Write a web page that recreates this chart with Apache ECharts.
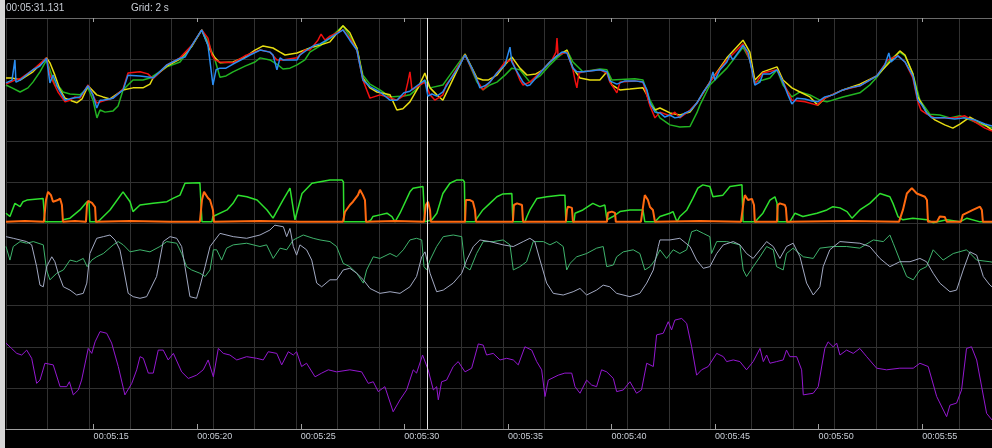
<!DOCTYPE html>
<html>
<head>
<meta charset="utf-8">
<script src="https://cdn.jsdelivr.net/npm/echarts@6/dist/echarts.min.js"></script>
<style>
html,body{margin:0;padding:0;background:#000;overflow:hidden;}
#chart{width:992px;height:448px;}
</style>
</head>
<body>
<div id="chart"></div>
<script>
// Time axis: seconds after 00:05:00. Value axis: screen divisions (0 = bottom, 10 = top).
const tickSeconds = [15, 20, 25, 30, 35, 40, 45, 50, 55];
const cursorTime = 31.131;
const gridStep = 2;
const viewStart = 10.77;
const viewEnd = 58.37;

// Upper group: four closely tracking channels
const topGreen = [[10.77,8.37],[11.06,8.30],[11.45,8.20],[11.83,8.30],[12.07,8.44],[12.41,8.69],[12.73,8.98],[12.89,8.74],[13.13,8.37],[13.38,8.30],[13.52,8.20],[13.86,8.15],[14.34,8.13],[14.73,8.30],[14.97,8.00],[15.16,7.57],[15.31,7.76],[15.55,7.71],[15.94,7.74],[16.18,7.86],[16.42,8.25],[16.90,8.49],[17.38,8.49],[17.72,8.54],[18.54,8.81],[19.17,8.93],[19.75,9.32],[20.22,9.71],[20.52,9.42],[20.86,8.98],[21.10,8.56],[21.39,8.59],[21.73,8.69],[22.31,8.83],[22.79,8.93],[23.04,9.03],[23.51,8.98],[23.90,8.86],[24.14,8.76],[24.48,8.78],[24.82,8.86],[25.20,8.98],[25.44,9.17],[25.93,9.32],[26.41,9.51],[27.04,9.81],[27.37,9.56],[27.71,9.27],[28.00,8.61],[28.34,8.39],[28.82,8.25],[29.31,8.08],[29.98,8.10],[30.27,8.13],[30.66,8.30],[30.99,8.49],[31.24,8.30],[31.86,8.37],[32.20,8.61],[32.93,9.12],[33.51,8.44],[33.79,8.25],[34.13,8.37],[34.47,8.44],[34.86,8.61],[35.19,8.78],[35.58,8.74],[36.06,8.44],[36.55,8.59],[37.03,8.86],[37.37,9.03],[37.85,9.22],[38.14,8.93],[38.62,8.69],[39.44,8.76],[39.78,8.74],[40.02,8.49],[41.13,8.52],[41.52,8.49],[41.86,8.00],[42.34,7.57],[42.82,7.40],[43.30,7.35],[43.79,7.36],[44.12,7.69],[44.27,7.88],[44.75,8.37],[45.57,8.78],[46.35,9.29],[46.68,8.98],[46.92,8.44],[47.31,8.49],[47.65,8.54],[47.99,8.74],[48.28,8.37],[48.71,8.08],[49.10,8.20],[49.58,8.13],[50.06,8.00],[50.40,7.96],[51.17,8.08],[51.99,8.18],[52.47,8.37],[52.81,8.56],[53.44,8.98],[53.92,9.17],[54.17,9.08],[54.55,8.64],[54.89,8.00],[55.37,7.66],[55.85,7.64],[56.34,7.57],[56.82,7.62],[57.30,7.52],[57.79,7.42],[58.37,7.32]];
const topYellow = [[10.77,8.54],[11.06,8.54],[11.45,8.49],[12.07,8.69],[12.73,9.03],[12.89,8.91],[13.13,8.61],[13.38,8.25],[13.62,8.05],[13.96,7.98],[14.20,7.94],[14.44,8.03],[14.73,8.35],[15.15,8.13],[15.45,8.08],[15.79,8.03],[16.42,8.25],[16.90,8.30],[17.38,8.30],[17.72,8.39],[17.87,8.54],[18.54,8.83],[19.17,9.00],[19.75,9.32],[20.22,9.71],[20.62,9.22],[20.86,9.03],[21.10,8.91],[21.73,8.93],[22.31,9.05],[22.79,9.22],[23.18,9.32],[23.66,9.27],[24.00,9.17],[24.24,9.10],[24.82,9.15],[25.44,9.27],[25.93,9.34],[26.41,9.42],[27.04,9.81],[27.37,9.64],[27.71,9.27],[28.00,8.54],[28.34,8.30],[28.68,8.20],[29.31,8.13],[29.64,7.76],[29.93,7.79],[30.27,7.96],[30.66,8.30],[30.99,8.66],[31.24,8.30],[31.57,8.13],[31.86,8.00],[32.10,8.25],[32.44,8.61],[32.93,9.12],[33.51,8.54],[33.79,8.49],[34.04,8.49],[34.47,8.61],[34.86,8.86],[35.19,9.05],[35.58,8.78],[35.92,8.61],[36.35,8.64],[36.69,8.74],[37.03,8.93],[37.37,9.08],[37.85,9.22],[38.14,8.78],[38.48,8.54],[38.96,8.49],[39.44,8.49],[39.78,8.69],[40.02,8.37],[40.41,8.25],[40.89,8.27],[41.52,8.30],[41.71,8.13],[41.86,7.91],[42.10,7.76],[42.34,7.81],[42.82,7.69],[43.30,7.64],[43.79,7.71],[44.12,7.93],[44.75,8.44],[45.57,9.03],[46.35,9.46],[46.68,9.17],[46.92,8.49],[47.31,8.69],[47.99,8.81],[48.28,8.49],[48.71,8.30],[49.10,8.20],[49.58,8.08],[49.96,7.88],[50.30,8.05],[51.17,8.25],[51.99,8.39],[52.81,8.59],[53.44,8.93],[53.92,9.20],[54.17,9.10],[54.55,8.64],[54.79,8.08],[55.22,7.69],[55.61,7.52],[56.09,7.40],[56.48,7.32],[56.82,7.42],[57.30,7.59],[57.54,7.52],[58.03,7.40],[58.37,7.27]];
const topRed = [[10.77,8.39],[11.20,8.49],[11.45,8.52],[12.07,8.74],[12.73,9.03],[12.89,8.61],[13.28,8.20],[13.62,7.96],[13.86,8.00],[14.10,8.08],[14.34,8.05],[14.73,8.37],[15.15,7.93],[15.45,7.98],[15.94,8.05],[16.42,8.27],[16.66,8.66],[17.24,8.69],[17.62,8.64],[17.87,8.52],[18.54,8.86],[19.17,9.03],[19.75,9.34],[20.22,9.71],[20.52,9.51],[20.71,9.10],[20.86,8.98],[21.10,8.93],[21.73,8.91],[22.31,9.08],[23.04,9.22],[23.51,9.17],[23.85,8.98],[24.14,8.98],[24.82,9.03],[25.20,9.22],[25.44,9.22],[25.83,9.46],[25.98,9.61],[26.17,9.46],[26.41,9.56],[27.04,9.71],[27.37,9.51],[27.71,9.22],[28.00,8.49],[28.34,8.05],[28.82,8.13],[29.21,8.08],[29.64,8.00],[30.03,8.13],[30.17,8.44],[30.27,8.69],[30.37,8.25],[30.75,8.37],[30.99,8.44],[31.24,8.13],[31.48,8.00],[31.72,8.08],[31.86,8.13],[32.01,8.37],[32.20,8.49],[32.93,9.10],[33.51,8.49],[33.79,8.25],[34.13,8.44],[34.47,8.66],[34.86,8.93],[35.19,8.98],[35.58,8.49],[35.73,8.37],[36.06,8.44],[36.69,8.74],[37.13,8.98],[37.32,9.17],[37.37,9.51],[37.42,9.10],[37.85,9.17],[38.14,8.74],[38.24,8.49],[38.33,8.30],[38.43,8.66],[38.62,8.69],[39.44,8.74],[39.78,8.66],[39.92,8.44],[40.17,8.25],[40.26,8.18],[40.41,8.44],[41.13,8.47],[41.52,8.44],[41.86,7.86],[42.10,7.57],[42.34,7.71],[42.82,7.62],[43.06,7.71],[43.30,7.57],[43.79,7.76],[44.12,7.93],[44.75,8.44],[45.57,8.98],[46.35,9.37],[46.68,8.98],[46.92,8.39],[47.31,8.66],[47.99,8.74],[48.28,8.44],[48.71,8.00],[49.34,7.96],[49.92,7.88],[50.30,8.05],[51.17,8.25],[51.99,8.35],[52.81,8.59],[53.34,8.98],[53.83,9.08],[54.17,8.93],[54.55,8.54],[54.79,7.96],[54.94,7.76],[55.22,7.66],[55.61,7.57],[56.57,7.57],[57.06,7.62],[57.54,7.47],[58.03,7.32],[58.37,7.25]];
const topBlue = [[10.77,8.42],[11.06,8.49],[11.20,8.98],[11.25,8.44],[11.45,8.49],[12.07,8.74],[12.41,8.83],[12.73,9.02],[12.89,8.42],[13.04,8.61],[13.28,8.30],[13.62,8.00],[13.96,8.05],[14.34,8.08],[14.73,8.35],[14.97,8.13],[15.15,7.81],[15.31,8.00],[15.45,8.00],[15.94,8.05],[16.42,8.25],[16.66,8.61],[17.24,8.59],[17.72,8.56],[17.87,8.54],[18.54,8.86],[19.17,9.02],[19.41,9.05],[19.75,9.34],[20.22,9.71],[20.52,9.34],[20.76,8.37],[20.91,8.74],[21.10,8.78],[21.39,8.78],[21.73,8.88],[22.31,9.03],[22.55,9.10],[23.04,9.22],[23.51,9.17],[23.66,9.10],[23.85,8.74],[24.00,9.03],[24.14,8.98],[24.82,8.98],[24.96,9.10],[25.44,9.27],[25.69,9.34],[25.93,9.37],[26.41,9.51],[26.65,9.59],[27.04,9.71],[27.37,9.46],[27.71,9.22],[28.00,8.49],[28.34,8.33],[28.82,8.20],[29.31,8.00],[29.64,8.00],[29.98,8.18],[30.27,8.22],[30.66,8.37],[30.99,8.49],[31.14,8.10],[31.33,8.15],[31.57,8.10],[31.86,8.20],[32.20,8.49],[32.59,8.78],[32.93,9.10],[33.26,8.78],[33.51,8.49],[33.65,8.30],[33.89,8.35],[34.13,8.44],[34.47,8.66],[34.86,8.86],[35.10,9.29],[35.19,8.93],[35.39,8.74],[35.73,8.44],[35.92,8.35],[36.06,8.37],[36.35,8.54],[36.69,8.74],[37.03,8.93],[37.37,9.08],[37.61,9.17],[37.85,9.15],[38.14,8.78],[38.33,8.69],[38.62,8.69],[38.96,8.71],[39.44,8.74],[39.78,8.69],[39.92,8.47],[40.26,8.39],[40.65,8.47],[41.13,8.47],[41.52,8.44],[41.71,8.25],[41.86,7.93],[42.10,7.71],[42.34,7.69],[42.58,7.59],[42.82,7.64],[43.06,7.57],[43.30,7.59],[43.55,7.69],[43.79,7.74],[44.12,7.93],[44.41,8.18],[44.75,8.42],[44.90,8.69],[44.99,8.49],[45.24,8.74],[45.57,8.93],[45.72,9.10],[45.86,8.98],[46.20,9.22],[46.35,9.34],[46.59,9.17],[46.78,8.74],[46.92,8.37],[47.17,8.44],[47.31,8.64],[47.65,8.64],[47.99,8.74],[48.28,8.44],[48.52,8.13],[48.71,7.91],[48.95,8.05],[49.34,8.03],[49.68,7.98],[49.96,7.96],[50.30,8.08],[50.69,8.13],[51.17,8.25],[51.51,8.30],[51.99,8.35],[52.47,8.49],[52.81,8.59],[53.20,8.86],[53.39,9.15],[53.49,8.93],[53.83,9.08],[54.17,8.93],[54.55,8.59],[54.79,8.00],[54.99,7.88],[55.22,7.69],[55.47,7.57],[56.09,7.57],[56.57,7.54],[57.06,7.57],[57.54,7.52],[58.03,7.42],[58.37,7.37]];

// Middle pair: green level and orange pulses sitting on a common baseline
const midGreen = [[10.77,5.25],[10.96,5.17],[11.20,5.49],[11.45,5.41],[11.59,5.53],[11.78,5.57],[12.56,5.61],[12.63,5.57],[12.65,5.04],[13.47,5.04],[13.52,5.09],[13.86,5.13],[14.34,5.33],[14.68,5.53],[14.78,5.50],[14.82,5.04],[15.16,5.04],[15.31,5.09],[15.79,5.33],[16.42,5.77],[16.76,5.53],[16.90,5.29],[17.24,5.45],[17.87,5.49],[18.54,5.53],[18.83,5.61],[19.17,5.69],[19.41,5.98],[20.13,5.99],[20.21,5.99],[20.23,5.04],[20.71,5.04],[20.76,5.17],[21.44,5.33],[21.73,5.49],[21.97,5.69],[22.40,5.65],[22.89,5.57],[23.37,5.33],[23.66,5.13],[24.14,5.57],[24.48,5.86],[24.72,5.09],[25.06,5.73],[25.54,5.98],[26.41,6.06],[26.99,6.06],[27.06,6.01],[27.08,5.04],[28.24,5.04],[28.39,5.09],[28.48,5.17],[28.82,5.21],[29.16,5.25],[29.40,5.17],[29.55,5.04],[29.79,5.25],[30.27,5.77],[30.42,5.86],[30.90,5.90],[30.97,5.86],[30.99,5.04],[31.33,5.09],[31.57,5.25],[31.86,5.73],[32.20,5.98],[32.54,6.06],[32.83,6.06],[32.90,6.01],[32.93,5.04],[33.41,5.04],[33.51,5.13],[33.79,5.33],[34.13,5.49],[34.47,5.65],[34.76,5.72],[35.19,5.73],[35.24,5.04],[35.82,5.04],[35.92,5.17],[36.06,5.33],[36.40,5.61],[36.88,5.65],[37.51,5.69],[37.75,5.69],[37.80,5.04],[38.19,5.04],[38.24,5.25],[38.62,5.33],[39.10,5.49],[39.44,5.41],[39.68,5.45],[39.78,5.09],[40.07,5.17],[40.41,5.29],[40.89,5.33],[41.52,5.33],[41.61,5.04],[42.10,5.04],[42.34,5.17],[42.82,5.25],[42.97,5.29],[43.16,5.04],[43.30,5.17],[43.64,5.33],[43.93,5.61],[44.17,5.86],[44.41,5.94],[44.75,5.90],[44.90,5.65],[45.38,5.69],[45.72,5.90],[46.30,5.94],[46.35,5.04],[46.97,5.04],[47.02,5.09],[47.31,5.25],[47.65,5.57],[47.89,5.65],[47.99,5.50],[48.03,5.04],[48.61,5.04],[48.86,5.25],[49.24,5.17],[49.92,5.25],[50.40,5.33],[50.69,5.41],[51.03,5.38],[51.37,5.29],[51.61,5.13],[51.99,5.33],[52.47,5.49],[52.96,5.73],[53.44,5.65],[53.59,5.49],[53.83,5.17],[54.07,5.09],[54.55,5.13],[55.23,5.09],[55.52,5.02],[56.19,5.09],[56.82,5.04],[57.16,5.13],[57.79,5.04],[58.37,5.04]];
const midOrange = [[10.77,5.04],[11.69,5.06],[12.60,5.04],[12.70,5.57],[12.80,5.77],[12.94,5.69],[13.04,5.53],[13.28,5.57],[13.38,5.61],[13.47,5.45],[13.52,5.04],[14.10,5.06],[14.63,5.04],[14.68,5.45],[14.73,5.55],[14.92,5.50],[15.07,5.40],[15.11,5.04],[16.76,5.06],[18.69,5.04],[20.13,5.04],[20.23,5.57],[20.33,5.77],[20.52,5.62],[20.62,5.57],[20.76,5.33],[20.81,5.04],[23.03,5.06],[24.96,5.04],[27.04,5.04],[27.13,5.28],[27.37,5.45],[27.52,5.53],[27.76,5.69],[27.86,5.82],[28.00,5.69],[28.10,5.57],[28.15,5.04],[29.55,5.06],[30.95,5.04],[31.04,5.45],[31.14,5.53],[31.24,5.33],[31.28,5.04],[32.93,5.04],[32.97,5.57],[33.02,5.61],[33.17,5.57],[33.31,5.53],[33.41,5.33],[33.46,5.04],[35.24,5.04],[35.29,5.45],[35.44,5.49],[35.68,5.45],[35.73,5.04],[37.80,5.04],[37.85,5.33],[37.90,5.41],[38.09,5.38],[38.14,5.04],[39.78,5.04],[39.83,5.26],[40.02,5.29],[40.17,5.26],[40.21,5.04],[41.42,5.04],[41.57,5.57],[41.61,5.69],[41.76,5.57],[41.86,5.40],[42.00,5.33],[42.10,5.04],[44.27,5.06],[46.25,5.04],[46.39,5.57],[46.44,5.69],[46.59,5.57],[46.78,5.60],[46.88,5.45],[46.92,5.04],[47.99,5.04],[48.03,5.45],[48.13,5.49],[48.37,5.45],[48.42,5.38],[48.47,5.04],[51.51,5.06],[53.88,5.04],[54.07,5.33],[54.26,5.73],[54.50,5.86],[54.74,5.73],[55.13,5.65],[55.23,5.57],[55.28,5.04],[55.71,5.04],[55.85,5.17],[56.09,5.16],[56.19,5.04],[56.87,5.04],[56.96,5.21],[57.45,5.33],[57.79,5.41],[57.88,5.33],[57.93,5.04],[58.37,5.04]];

// Lower pair: sea-green and slate traces
const lowGreen = [[10.77,4.44],[10.96,4.11],[11.12,4.44],[11.45,4.56],[11.77,4.52],[12.09,4.56],[12.57,4.48],[12.73,3.87],[12.89,3.63],[13.22,3.79],[13.54,3.87],[13.86,4.11],[14.18,4.07],[14.50,4.15],[14.69,3.95],[14.91,4.11],[15.15,4.19],[15.47,4.27],[15.95,4.48],[16.19,4.56],[16.43,4.48],[16.76,4.31],[17.24,4.36],[17.72,4.31],[18.20,4.44],[18.53,4.56],[19.01,4.52],[19.25,4.27],[19.49,3.95],[19.73,3.87],[20.13,3.79],[20.38,3.71],[20.62,3.87],[20.78,4.36],[20.94,4.36],[21.18,4.11],[21.42,4.40],[21.74,4.48],[22.39,4.52],[23.03,4.44],[23.35,4.48],[23.67,4.15],[24.00,4.40],[24.32,4.36],[24.64,4.60],[25.12,4.72],[25.60,4.64],[25.93,4.60],[26.41,4.56],[26.73,4.44],[27.05,4.03],[27.37,3.95],[27.70,3.79],[28.02,3.55],[28.18,3.87],[28.50,4.19],[28.82,4.15],[29.31,4.27],[29.63,4.19],[29.95,4.36],[30.27,4.60],[30.59,4.64],[30.84,4.60],[30.95,3.95],[31.08,3.87],[31.24,4.11],[31.56,4.44],[31.88,4.68],[32.36,4.72],[32.77,4.68],[32.93,3.95],[33.17,3.87],[33.49,4.27],[33.81,4.56],[34.29,4.56],[34.77,4.60],[35.10,4.48],[35.26,3.87],[35.58,3.95],[35.90,4.07],[36.06,4.31],[36.22,4.56],[36.71,4.56],[37.03,4.48],[37.35,4.56],[37.67,4.44],[37.84,3.87],[38.00,4.03],[38.32,4.19],[38.80,4.27],[39.28,4.40],[39.60,4.44],[39.77,3.95],[40.09,3.99],[40.25,4.19],[40.57,4.31],[41.05,4.36],[41.37,4.27],[41.61,3.87],[41.86,3.95],[42.10,4.11],[42.34,4.36],[42.66,4.15],[42.98,4.36],[43.30,4.27],[43.63,4.36],[43.87,4.80],[44.11,4.84],[44.43,4.76],[44.75,4.68],[44.83,4.27],[45.08,4.56],[45.56,4.56],[46.20,4.48],[46.36,3.87],[46.52,3.71],[46.84,3.95],[47.17,4.19],[47.49,4.44],[47.81,4.36],[47.97,3.95],[48.29,3.87],[48.45,4.27],[48.77,4.40],[49.26,4.19],[49.74,4.15],[50.06,4.40],[50.70,4.44],[51.35,4.44],[51.99,4.40],[52.64,4.60],[53.12,4.56],[53.44,4.72],[53.60,4.52],[53.92,4.11],[54.25,3.71],[54.57,3.63],[54.89,3.87],[55.21,3.95],[55.53,4.36],[56.01,4.11],[56.50,4.27],[57.14,4.36],[57.63,4.11],[58.27,4.07],[58.37,4.06]];
const lowSlate = [[10.77,4.68],[11.12,4.64],[11.45,4.60],[11.77,4.56],[12.01,4.48],[12.25,3.95],[12.41,3.50],[12.57,3.46],[12.73,3.95],[12.98,4.19],[13.13,4.07],[13.29,3.79],[13.54,3.46],[13.86,3.38],[14.18,3.26],[14.50,3.30],[14.67,3.55],[14.82,4.27],[15.15,4.64],[15.47,4.68],[15.79,4.72],[16.03,4.60],[16.27,4.36],[16.43,3.95],[16.67,3.30],[16.91,3.22],[17.24,3.18],[17.56,3.22],[18.04,3.71],[18.36,4.56],[18.69,4.68],[19.01,4.64],[19.25,4.44],[19.41,3.95],[19.65,3.22],[19.97,3.18],[20.13,3.46],[20.38,3.95],[20.62,4.44],[21.10,4.76],[21.74,4.68],[22.39,4.64],[23.03,4.72],[23.51,4.84],[23.75,4.96],[24.16,4.92],[24.32,4.68],[24.48,4.88],[24.64,4.44],[24.80,4.23],[24.96,4.48],[25.28,4.36],[25.53,4.11],[25.77,3.55],[26.01,3.46],[26.41,3.63],[26.73,3.63],[27.05,3.87],[27.37,3.91],[27.70,3.79],[28.02,3.63],[28.34,3.42],[28.82,3.30],[29.31,3.34],[29.79,3.30],[30.27,3.46],[30.59,3.71],[30.84,4.19],[31.00,4.31],[31.24,3.79],[31.56,3.34],[31.88,3.38],[32.36,3.55],[32.77,3.79],[33.01,4.11],[33.33,4.44],[33.65,4.60],[34.13,4.56],[34.77,4.48],[35.26,4.44],[35.74,4.56],[36.06,4.64],[36.30,4.56],[36.55,4.11],[36.87,3.55],[37.19,3.30],[37.67,3.26],[38.15,3.34],[38.48,3.42],[38.80,3.26],[39.28,3.38],[39.60,3.50],[39.92,3.46],[40.25,3.30],[40.89,3.22],[41.37,3.30],[41.70,3.55],[42.02,3.87],[42.26,4.44],[42.34,4.60],[42.82,4.60],[43.30,4.64],[43.79,4.44],[44.11,4.11],[44.43,3.91],[44.75,3.95],[45.08,4.27],[45.40,4.48],[45.88,4.56],[46.20,4.48],[46.52,4.27],[46.84,4.15],[47.17,4.36],[47.49,4.56],[47.81,4.44],[48.13,4.15],[48.45,4.44],[48.77,4.52],[49.10,4.19],[49.42,3.55],[49.74,3.26],[50.06,3.46],[50.22,3.95],[50.54,4.36],[51.03,4.56],[51.99,4.52],[52.47,4.44],[52.96,4.15],[53.44,3.95],[53.92,4.07],[54.41,4.07],[54.89,4.15],[55.21,4.07],[55.53,3.79],[55.85,3.55],[56.34,3.34],[56.66,3.38],[56.98,3.87],[57.30,4.31],[57.63,4.23],[57.95,3.71],[58.27,3.50],[58.37,3.46]];

// Bottom channel
const bottomPurple = [[10.77,2.09],[11.04,1.96],[11.29,1.84],[11.53,1.80],[11.77,1.92],[12.01,1.72],[12.25,1.11],[12.41,1.19],[12.65,1.60],[13.05,1.56],[13.38,1.03],[13.70,1.03],[13.83,1.15],[14.02,0.83],[14.26,0.95],[14.42,1.19],[14.74,1.96],[14.91,1.84],[15.07,2.12],[15.31,2.37],[15.63,2.33],[15.87,2.09],[16.19,1.52],[16.51,0.83],[16.84,1.11],[17.08,1.44],[17.24,1.76],[17.40,1.72],[17.64,1.36],[17.88,1.36],[18.12,1.92],[18.36,1.92],[18.60,1.68],[18.85,1.84],[19.25,1.39],[19.57,1.23],[19.97,1.31],[20.29,1.44],[20.53,1.68],[20.78,1.27],[21.02,1.96],[21.26,1.84],[21.58,1.80],[21.91,1.68],[22.39,1.76],[22.87,1.72],[23.19,1.68],[23.43,1.88],[23.84,1.84],[24.08,1.56],[24.40,1.88],[24.64,1.80],[24.80,1.88],[25.04,1.52],[25.28,1.60],[25.69,1.27],[26.01,1.36],[26.33,1.44],[26.73,1.39],[27.37,1.44],[27.94,1.39],[28.26,1.11],[28.50,1.15],[28.74,0.91],[29.06,1.03],[29.46,0.42],[29.79,0.71],[30.11,0.95],[30.43,1.44],[30.59,1.36],[30.88,1.80],[31.15,1.44],[31.40,0.95],[31.56,1.03],[31.64,0.71],[31.80,1.15],[32.04,1.19],[32.36,1.52],[32.60,1.64],[32.93,1.39],[33.25,1.48],[33.57,2.07],[33.81,2.04],[33.97,1.80],[34.29,1.84],[34.62,1.68],[34.94,1.72],[35.26,1.68],[35.50,1.56],[35.82,2.00],[36.15,1.92],[36.39,1.64],[36.63,1.44],[36.79,0.79],[36.95,1.19],[37.43,1.31],[37.75,1.36],[38.08,1.36],[38.24,1.03],[38.48,0.87],[38.80,1.19],[39.04,1.07],[39.28,1.03],[39.52,1.44],[39.77,1.39],[40.09,1.23],[40.25,0.91],[40.57,0.95],[40.89,1.15],[41.21,0.87],[41.45,0.95],[41.70,1.60],[42.02,1.52],[42.18,2.29],[42.50,2.33],[42.74,2.61],[42.90,2.41],[43.06,2.65],[43.39,2.69],[43.63,2.57],[43.87,2.00],[44.11,1.31],[44.35,1.44],[44.67,1.52],[45.08,1.84],[45.40,1.76],[45.56,1.64],[45.88,1.68],[46.20,1.64],[46.52,1.44],[46.84,1.64],[47.17,1.96],[47.33,1.64],[47.49,1.80],[47.65,1.60],[47.97,1.64],[48.29,1.68],[48.45,1.92],[48.61,1.76],[48.94,1.76],[49.18,1.44],[49.26,0.83],[49.74,0.87],[49.98,1.03],[50.30,1.96],[50.46,2.12],[50.70,2.00],[50.87,2.09],[51.03,1.80],[51.35,1.92],[51.67,1.84],[51.99,1.96],[52.32,1.76],[52.80,1.48],[53.28,1.44],[53.92,1.48],[54.57,1.48],[54.89,1.60],[55.29,1.52],[55.70,0.79],[56.18,0.30],[56.34,0.58],[56.66,0.63],[56.90,0.95],[57.14,1.96],[57.38,2.00],[57.63,1.68],[58.11,0.38],[58.37,0.22]];

function pad2(n) { return (n < 10 ? '0' : '') + n; }
function clock(sec, withMs) {
  const m = Math.floor(sec / 60) + 5;
  const s = sec - Math.floor(sec / 60) * 60;
  let txt = '00:' + pad2(m) + ':' + pad2(Math.floor(s));
  if (withMs) txt += '.' + String(Math.round((s - Math.floor(s)) * 1000)).padStart(3, '0');
  return txt;
}

function trace(name, data, color, width, z) {
  return {
    name: name, type: 'line', data: data, xAxisIndex: 0, yAxisIndex: 0,
    symbol: 'none', showSymbol: false, smooth: false, animation: false, z: z || 2,
    lineStyle: { color: color, width: width }
  };
}

const chart = echarts.init(document.getElementById('chart'), null, { renderer: 'canvas' });
const textFont = 'Liberation Sans, Arial, sans-serif';

chart.setOption({
  backgroundColor: '#000000',
  animation: false,
  grid: { left: 6, right: 0, top: 18, bottom: 19, containLabel: false },
  xAxis: [
    {
      type: 'value', position: 'bottom', min: viewStart, max: viewEnd,
      axisLine: { show: true, lineStyle: { color: '#a0a0a0', width: 1 } },
      axisTick: { show: true, inside: true, length: 5, customValues: tickSeconds, lineStyle: { color: '#a0a0a0' } },
      axisLabel: { show: true, customValues: tickSeconds, formatter: v => clock(v, false),
        color: '#c9ced6', fontSize: 9, fontFamily: textFont, align: 'left', margin: 3 },
      splitLine: { show: false }
    },
    {
      type: 'value', position: 'top', min: viewStart, max: viewEnd,
      axisLine: { show: true, lineStyle: { color: '#6a6a6a', width: 1 } },
      axisTick: { show: true, inside: true, length: 4, customValues: tickSeconds, lineStyle: { color: '#a0a0a0' } },
      axisLabel: { show: false },
      splitLine: { show: false }
    },
    {
      type: 'value', position: 'bottom', min: 0, max: viewEnd - viewStart, interval: gridStep,
      axisLine: { show: false }, axisTick: { show: false }, axisLabel: { show: false },
      splitLine: { show: true, lineStyle: { color: '#313131', width: 1 } }
    }
  ],
  yAxis: [{
    type: 'value', min: 0, max: 10, interval: 1,
    axisLine: { show: false }, axisTick: { show: false }, axisLabel: { show: false },
    splitLine: { show: true, lineStyle: { color: '#313131', width: 1 } }
  }],
  graphic: [
    { type: 'rect', left: 0, top: 0, z: 50, shape: { width: 5, height: 448 }, style: { fill: '#d6d6d6' } },
    { type: 'text', left: 6, top: 3, z: 50, style: { text: clock(cursorTime, true), fill: '#c9ced6', font: '10px ' + textFont } },
    { type: 'text', left: 131, top: 3, z: 50, style: { text: 'Grid: ' + gridStep + ' s', fill: '#c9ced6', font: '10px ' + textFont } }
  ],
  series: [
    trace('green', topGreen, '#22b422', 1.5, 2),
    trace('yellow', topYellow, '#e6dc12', 1.5, 3),
    trace('red', topRed, '#f01010', 1.5, 4),
    trace('blue', topBlue, '#2a8cf0', 1.5, 5),
    trace('level', midGreen, '#2ee02e', 1.5, 2),
    trace('pulse', midOrange, '#ff6a10', 2, 3),
    trace('seagreen', lowGreen, '#3fb36c', 1, 2),
    trace('slate', lowSlate, '#a2a9c2', 1, 3),
    Object.assign(trace('violet', bottomPurple, '#9418d0', 1, 2), {
      markLine: {
        silent: true, symbol: ['none', 'none'], label: { show: false },
        lineStyle: { color: '#e6e6e6', width: 1, type: 'solid' },
        data: [{ xAxis: cursorTime }]
      }
    })
  ]
});
</script>
</body>
</html>
